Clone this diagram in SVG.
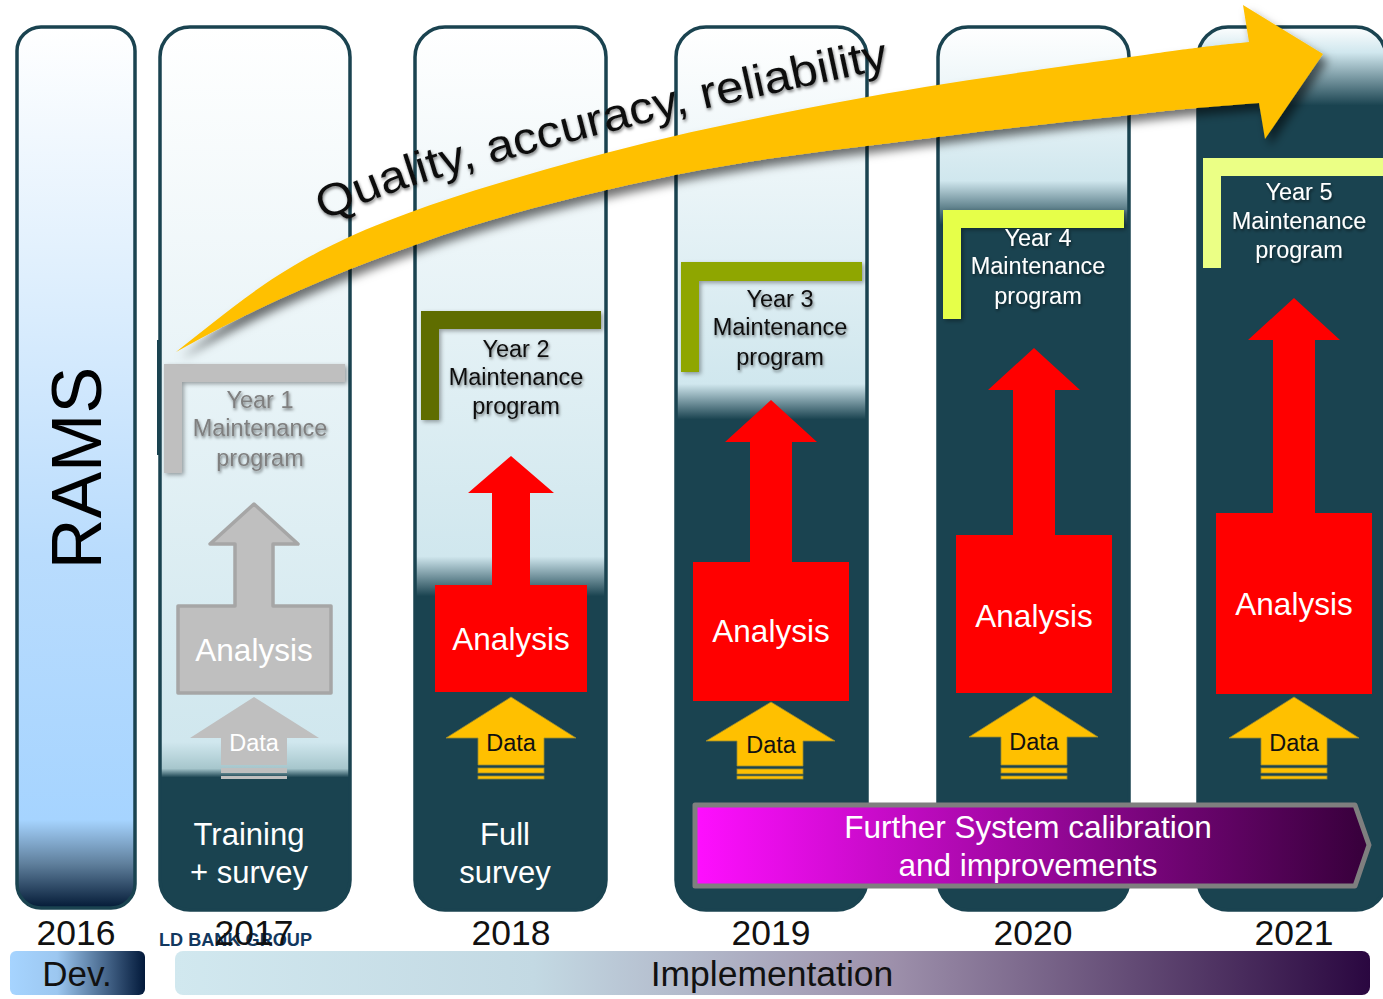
<svg xmlns="http://www.w3.org/2000/svg" xmlns:xlink="http://www.w3.org/1999/xlink" width="1383" height="999" viewBox="0 0 1383 999">
<style>
text{font-family:"Liberation Sans",Arial,sans-serif;text-anchor:middle}
.pillar{stroke:#1a4350;stroke-width:3.5}
.yr{font-size:35.5px;fill:#111}
.an{font-size:31.5px;fill:#fff}
.da{font-size:23.5px}
.mp{font-size:23.5px;fill:#fff;filter:url(#ts)}
.sv{font-size:31px;fill:#fff}
.red{fill:#f00}
.gold{fill:#ffc000;stroke:#9a8a30;stroke-width:.8}
.grey{fill:#bfbfbf}
</style>
<defs>
<filter id="ds" x="-20%" y="-40%" width="140%" height="180%"><feDropShadow dx="5" dy="7" stdDeviation="5" flood-color="#000" flood-opacity=".55"/></filter>
<filter id="ls" x="-10%" y="-10%" width="120%" height="120%"><feDropShadow dx="2" dy="2" stdDeviation="2" flood-color="#000" flood-opacity=".35"/></filter>
<filter id="ts" x="-10%" y="-20%" width="120%" height="140%"><feDropShadow dx="1" dy="2" stdDeviation="1.5" flood-color="#000" flood-opacity=".5"/></filter>
<linearGradient id="g16" gradientUnits="userSpaceOnUse" x1="0" y1="26" x2="0" y2="908"><stop offset="0" stop-color="#fff"/><stop offset=".25" stop-color="#e3f1fd"/><stop offset=".6" stop-color="#b9dcfd"/><stop offset=".9" stop-color="#a6d4ff"/><stop offset=".95" stop-color="#5f7f9c"/><stop offset="1" stop-color="#031a36"/></linearGradient>
<linearGradient id="g17" gradientUnits="userSpaceOnUse" x1="0" y1="26" x2="0" y2="910"><stop offset="0" stop-color="#fff"/><stop offset=".81" stop-color="#d0e7ee"/><stop offset=".84" stop-color="#a6c6cc"/><stop offset=".85" stop-color="#1a4350"/></linearGradient>
<linearGradient id="g18" gradientUnits="userSpaceOnUse" x1="0" y1="26" x2="0" y2="910"><stop offset="0" stop-color="#fff"/><stop offset=".6" stop-color="#d0e7ee"/><stop offset=".645" stop-color="#1a4350"/></linearGradient>
<linearGradient id="g19" gradientUnits="userSpaceOnUse" x1="0" y1="26" x2="0" y2="910"><stop offset="0" stop-color="#fff"/><stop offset=".405" stop-color="#d0e7ee"/><stop offset=".445" stop-color="#1a4350"/></linearGradient>
<linearGradient id="g20" gradientUnits="userSpaceOnUse" x1="0" y1="26" x2="0" y2="910"><stop offset="0" stop-color="#fff"/><stop offset=".175" stop-color="#d0e7ee"/><stop offset=".225" stop-color="#1a4350"/></linearGradient>
<linearGradient id="g21" gradientUnits="userSpaceOnUse" x1="0" y1="26" x2="0" y2="910"><stop offset="0" stop-color="#fff"/><stop offset=".03" stop-color="#d0e7ee"/><stop offset=".09" stop-color="#1a4350"/></linearGradient>
<linearGradient id="gm"><stop offset="0" stop-color="#ff0fff"/><stop offset="1" stop-color="#36003a"/></linearGradient>
<linearGradient id="gd"><stop offset="0" stop-color="#a6d4ff"/><stop offset=".35" stop-color="#9cc7f0"/><stop offset="1" stop-color="#02193a"/></linearGradient>
<linearGradient id="gi"><stop offset="0" stop-color="#d1e8ef"/><stop offset=".3" stop-color="#c3d9e3"/><stop offset=".6" stop-color="#9d90ab"/><stop offset="1" stop-color="#2a0740"/></linearGradient>
</defs>

<g id="pillar-2016"><rect class="pillar" x="17" y="27" width="118" height="881" rx="24" fill="url(#g16)"/><text x="0" y="0" transform="translate(101 468) rotate(-90)" fill="#000" style="font-size:70px">RAMS</text></g>
<g id="pillar-2017"><rect class="pillar" x="160" y="27" width="190" height="883" rx="30" fill="url(#g17)"/><rect x="157" y="340" width="3" height="115" fill="#1a4350"/></g>
<g id="pillar-2018"><rect class="pillar" x="415" y="27" width="191" height="883" rx="30" fill="url(#g18)"/></g>
<g id="pillar-2019"><rect class="pillar" x="676" y="27" width="191" height="883" rx="30" fill="url(#g19)"/></g>
<g id="pillar-2020"><rect class="pillar" x="938" y="27" width="191" height="883" rx="30" fill="url(#g20)"/></g>
<g id="pillar-2021"><rect class="pillar" x="1198" y="27" width="188" height="883" rx="30" fill="url(#g21)"/></g>

<g id="year1"><path d="M164 364H345V382H182V473H164Z" fill="#bfbfbf" filter="url(#ls)"/><text class="mp" x="260" y="408" style="fill:#7f7f7f">Year 1</text><text class="mp" x="260" y="436" style="fill:#7f7f7f">Maintenance</text><text class="mp" x="260" y="466" style="fill:#7f7f7f">program</text></g>
<g id="year2"><path d="M421 311H601V329H439V420H421Z" fill="#5f6d00" filter="url(#ls)"/><text class="mp" x="516" y="357" style="fill:#111">Year 2</text><text class="mp" x="516" y="385" style="fill:#111">Maintenance</text><text class="mp" x="516" y="414" style="fill:#111">program</text></g>
<g id="year3"><path d="M681 262H862V281H699V372H681Z" fill="#8fa600" filter="url(#ls)"/><text class="mp" x="780" y="307" style="fill:#111">Year 3</text><text class="mp" x="780" y="335" style="fill:#111">Maintenance</text><text class="mp" x="780" y="365" style="fill:#111">program</text></g>
<g id="year4"><path d="M943 210H1124V228H961V319H943Z" fill="#e6ff4a" filter="url(#ls)"/><text class="mp" x="1038" y="246">Year 4</text><text class="mp" x="1038" y="274">Maintenance</text><text class="mp" x="1038" y="304">program</text></g>
<g id="year5"><path d="M1203 158H1383V176H1221V268H1203Z" fill="#ebff85"/><text class="mp" x="1299" y="200">Year 5</text><text class="mp" x="1299" y="229">Maintenance</text><text class="mp" x="1299" y="258">program</text></g>

<g id="analysis-2017"><path class="grey" stroke="#a6a6a6" stroke-width="3.5" stroke-linejoin="round" d="M178 606H235V544H210L254 504L298 544H273V606H331V693H178Z"/><text class="an" x="254" y="661">Analysis</text></g>
<g id="analysis-2018"><path class="red" d="M435 585H492V493H468L511 456L554 493H530V585H587V692H435Z"/><text class="an" x="511" y="650">Analysis</text></g>
<g id="analysis-2019"><path class="red" d="M693 562H750V442H725L771 400L817 442H792V562H849V701H693Z"/><text class="an" x="771" y="642">Analysis</text></g>
<g id="analysis-2020"><path class="red" d="M956 535H1013V390H988L1034 348L1080 390H1055V535H1112V693H956Z"/><text class="an" x="1034" y="627">Analysis</text></g>
<g id="analysis-2021"><path class="red" d="M1216 513H1273V340H1248L1294 298L1340 340H1315V513H1372V694H1216Z"/><text class="an" x="1294" y="615">Analysis</text></g>

<g id="data-2017"><path class="grey" d="M254 697L319 738H287V765H221V738H190Z"/><rect class="grey" x="221" y="768" width="66" height="5"/><rect class="grey" x="221" y="776" width="66" height="3"/><text class="da" x="254" y="751" fill="#fff">Data</text></g>
<g id="data-2018"><path class="gold" d="M511 697L576 738H544V765H478V738H446Z"/><rect class="gold" x="478" y="768" width="66" height="5"/><rect class="gold" x="478" y="776" width="66" height="3"/><text class="da" x="511" y="751" fill="#111">Data</text></g>
<g id="data-2019"><path class="gold" d="M771 702L835 741H803V766H737V741H706Z"/><rect class="gold" x="737" y="769" width="66" height="5"/><rect class="gold" x="737" y="776" width="66" height="3"/><text class="da" x="771" y="753" fill="#111">Data</text></g>
<g id="data-2020"><path class="gold" d="M1034 696L1098 737H1067V765H1001V737H969Z"/><rect class="gold" x="1001" y="768" width="66" height="5"/><rect class="gold" x="1001" y="776" width="66" height="3"/><text class="da" x="1034" y="750" fill="#111">Data</text></g>
<g id="data-2021"><path class="gold" d="M1294 697L1359 738H1327V765H1261V738H1229Z"/><rect class="gold" x="1261" y="768" width="66" height="5"/><rect class="gold" x="1261" y="776" width="66" height="3"/><text class="da" x="1294" y="751" fill="#111">Data</text></g>

<g id="survey-2017"><text class="sv" x="249" y="845">Training</text><text class="sv" x="249" y="883">+ survey</text></g>
<g id="survey-2018"><text class="sv" x="505" y="845">Full</text><text class="sv" x="505" y="883">survey</text></g>

<g id="calibration"><path d="M695 805H1355L1369 845L1355 886H695Z" fill="url(#gm)" stroke="#7f7f7f" stroke-width="5" stroke-linejoin="round"/><text x="1028" y="838" font-size="31.5" fill="#fff">Further System calibration</text><text x="1028" y="876" font-size="31.5" fill="#fff">and improvements</text></g>

<g id="connectors"><path id="quality-arrow" d="M176 352C235 305 275 271 347 238C419 205 519 176 606 153C693 130 780 113 867 97C954 81 1066 66 1130 57C1194 48 1200 47 1249 42L1243 5L1323 54L1265 139L1259 103C1183 109 1183 109 1130 115C1076 121 1014 127 938 137C862 147 762 157 675 175C588 193 498 215 415 245C332 274 250 310 176 352Z" fill="#ffc000" filter="url(#ds)"/></g>

<g id="quality-label"><path id="qp" d="M324 221C380 194 440 176 493 163C600 133 700 108 900 66" fill="none"/><text font-size="45" fill="#111" filter="url(#ts)" style="text-anchor:start" textLength="587" lengthAdjust="spacingAndGlyphs"><textPath href="#qp" xlink:href="#qp">Quality, accuracy, reliability</textPath></text></g>

<g id="logo"><text x="159" y="946" font-size="18.5" font-weight="bold" fill="#12385f" textLength="153" lengthAdjust="spacingAndGlyphs" style="text-anchor:start">LD BANK GROUP</text></g>

<g id="years"><text class="yr" x="76" y="945">2016</text><text class="yr" x="254" y="945">2017</text><text class="yr" x="511" y="945">2018</text><text class="yr" x="771" y="945">2019</text><text class="yr" x="1033" y="945">2020</text><text class="yr" x="1294" y="945">2021</text></g>
<g id="dev"><rect x="10" y="951" width="135" height="44" rx="6" fill="url(#gd)"/><text x="77" y="986" font-size="35" fill="#111">Dev.</text></g>
<g id="implementation"><rect x="175" y="951" width="1195" height="44" rx="8" fill="url(#gi)"/><text x="772" y="986" font-size="35.5" fill="#111">Implementation</text></g>
</svg>
